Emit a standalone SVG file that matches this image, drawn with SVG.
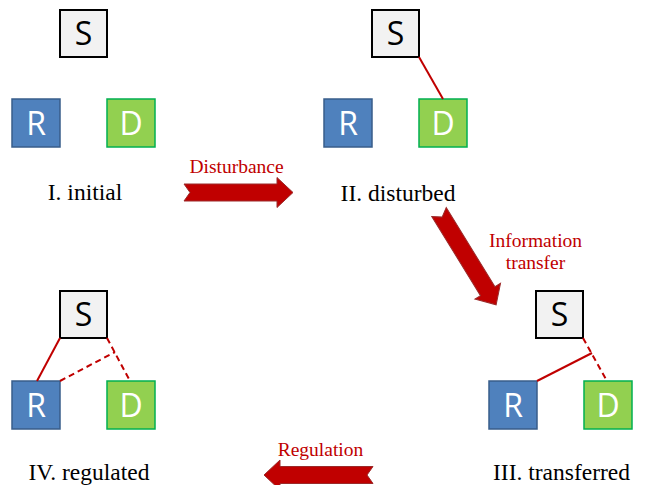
<svg xmlns="http://www.w3.org/2000/svg" width="645" height="485" viewBox="0 0 645 485">
<defs>
<style>
.s{fill:#F2F2F2;stroke:#000;stroke-width:2}
.r{fill:#4F81BD;stroke:#385D8A;stroke-width:1.5}
.d{fill:#92D050;stroke:#00B050;stroke-width:1.5}
.lt{font-family:"Open Sans","Noto Sans",sans-serif;font-size:32px;text-anchor:middle}
.lb{fill:#000}
.lw{fill:#fff}
.cap{font-family:"Liberation Serif","Times New Roman",serif;font-size:23.5px;fill:#000;text-anchor:middle}
.red{font-family:"Liberation Serif","Times New Roman",serif;font-size:19.5px;fill:#C00000;text-anchor:middle}
.ln{stroke:#C00000;stroke-width:2;fill:none}
.dash{stroke-dasharray:6,4}
.arr{fill:#C00000;stroke:#9B2A2A;stroke-width:1}
</style>
<path id="big" d="M0,-8.5 L93,-8.5 L93,-15 L109,0 L93,15 L93,8.5 L0,8.5 L6,0 Z"/>
</defs>

<g id="panel1">
<g id="S1"><rect class="s" x="60" y="10" width="47" height="47"/><text class="lt lb" x="83.5" y="45">S</text></g>
<g id="R1"><rect class="r" x="12" y="99" width="48" height="48"/><text class="lt lw" x="36" y="134.5">R</text></g>
<g id="D1"><rect class="d" x="107" y="99" width="48" height="48"/><text class="lt lw" x="131" y="134.5">D</text></g>
<text class="cap" x="85" y="200">I. initial</text>
</g>

<g id="panel2">
<g id="S2"><rect class="s" x="372" y="10" width="47" height="47"/><text class="lt lb" x="395.5" y="45">S</text></g>
<g id="R2"><rect class="r" x="324" y="99" width="48" height="48"/><text class="lt lw" x="348" y="134.5">R</text></g>
<g id="D2"><rect class="d" x="419" y="99" width="48" height="48"/><text class="lt lw" x="443" y="134.5">D</text></g>
<text class="cap" x="398" y="201">II. disturbed</text>
</g>

<g id="panel3">
<g id="S3"><rect class="s" x="536" y="291" width="47" height="47"/><text class="lt lb" x="559.5" y="326">S</text></g>
<g id="R3"><rect class="r" x="489" y="381" width="48" height="48"/><text class="lt lw" x="513" y="416.5">R</text></g>
<g id="D3"><rect class="d" x="584" y="381" width="48" height="48"/><text class="lt lw" x="608" y="416.5">D</text></g>
<text class="cap" x="561.5" y="480">III. transferred</text>
</g>

<g id="panel4">
<g id="S4"><rect class="s" x="60" y="291" width="47" height="47"/><text class="lt lb" x="83.5" y="326">S</text></g>
<g id="R4"><rect class="r" x="12" y="381" width="48" height="48"/><text class="lt lw" x="36" y="416.5">R</text></g>
<g id="D4"><rect class="d" x="107" y="381" width="48" height="48"/><text class="lt lw" x="131" y="416.5">D</text></g>
<text class="cap" x="89" y="480">IV. regulated</text>
</g>

<g id="connectors">
<line class="ln" x1="419" y1="57" x2="443" y2="99"/>
<line class="ln dash" x1="583" y1="338" x2="607" y2="381"/>
<line class="ln" x1="537" y1="381" x2="592" y2="353"/>
<line class="ln" x1="60" y1="338" x2="37" y2="381"/>
<line class="ln dash" x1="107" y1="338" x2="130" y2="381"/>
<line class="ln dash" x1="60" y1="381" x2="115" y2="352"/>
</g>

<g id="arrows">
<use href="#big" class="arr" transform="translate(184,192.5)"/>
<use href="#big" class="arr" transform="translate(439,212) rotate(58.4)"/>
<use href="#big" class="arr" transform="translate(373,475) rotate(180)"/>
<text class="red" x="236.5" y="173">Disturbance</text>
<text class="red" x="535.5" y="247">Information</text>
<text class="red" x="535.5" y="269">transfer</text>
<text class="red" x="320.5" y="456">Regulation</text>
</g>
</svg>
